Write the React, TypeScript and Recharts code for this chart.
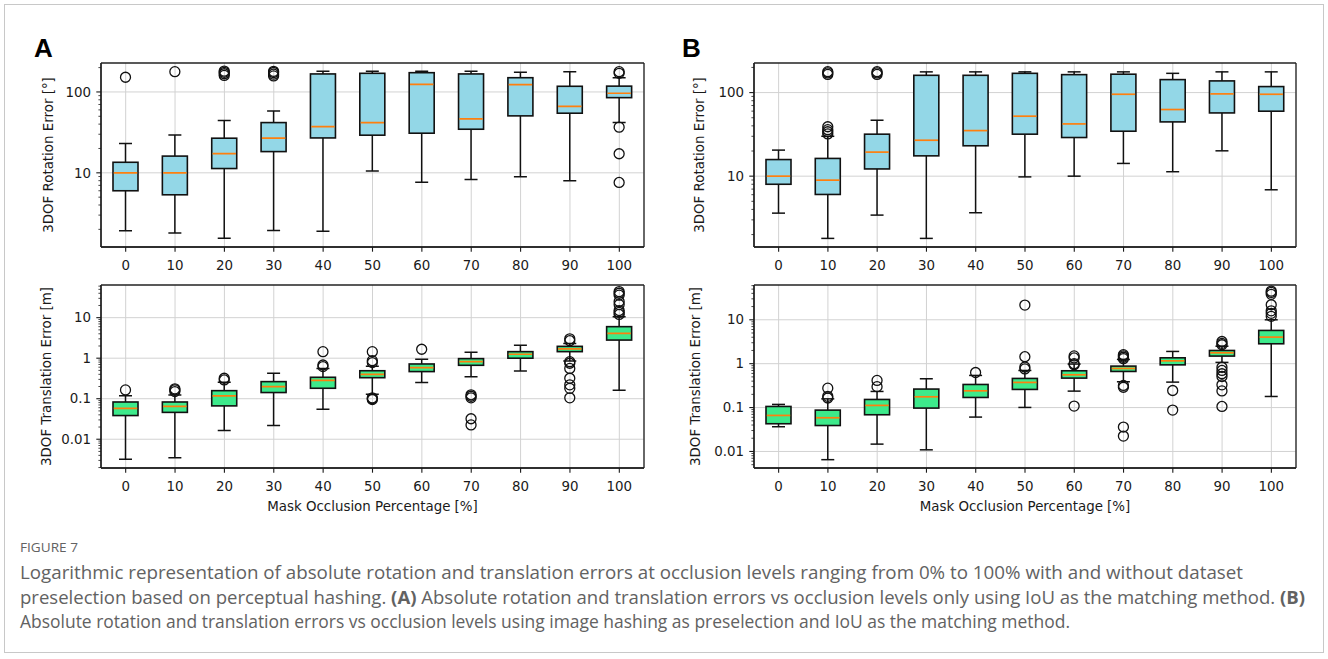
import React from 'react'
import { ComposedChart, Bar, XAxis, YAxis, CartesianGrid } from 'recharts'

const categories = ['0', '10', '20', '30', '40', '50', '60', '70', '80', '90', '100']

// (A) rotation error [°]
const rotALow = [1.92, 1.8, 1.55, 1.94, 1.89, 10.5, 7.67, 8.28, 8.93, 7.96, 41.8]
const rotAQ1 = [6.0, 5.35, 11.3, 18.3, 27.0, 29.2, 30.9, 34.6, 50.6, 54.6, 85]
const rotAMed = [10.0, 10.0, 17.3, 26.8, 37.3, 41.8, 124, 46.4, 123, 66.5, 96.4]
const rotAQ3 = [13.5, 16.1, 26.8, 41.8, 167, 170, 173, 167, 150, 117.5, 118]
const rotAHigh = [23.0, 29.4, 44.3, 58.2, 180, 180, 180, 180, 175, 178, 150]
const rotAOut = [[152], [178], [160, 168, 175, 181], [158, 166, 174, 180], [], [], [], [], [], [], [7.6, 17.2, 36.7, 170, 178]]

// (A) translation error [m]
const trALow = [0.0032, 0.0035, 0.0164, 0.0218, 0.055, 0.129, 0.25, 0.35, 0.485, 0.85, 0.161]
const trAQ1 = [0.0384, 0.046, 0.0665, 0.142, 0.181, 0.33, 0.467, 0.668, 1.0, 1.45, 2.8]
const trAMed = [0.058, 0.065, 0.117, 0.199, 0.285, 0.4, 0.585, 0.82, 1.25, 1.69, 4.1]
const trAQ3 = [0.083, 0.083, 0.158, 0.264, 0.338, 0.49, 0.72, 0.975, 1.45, 1.96, 6.0]
const trAHigh = [0.119, 0.124, 0.255, 0.425, 0.553, 0.63, 0.94, 1.4, 2.08, 2.3, 10.5]
const trAOut = [
  [0.165],
  [0.15, 0.165, 0.175],
  [0.29, 0.32],
  [],
  [0.62, 0.68, 1.45],
  [0.095, 0.1, 0.105, 0.78, 0.87, 1.45],
  [1.66],
  [0.0226, 0.032, 0.105, 0.115, 0.125],
  [],
  [0.105, 0.18, 0.22, 0.32, 0.56, 0.75, 0.82, 2.7, 3.0],
  [12, 13.5, 15, 21, 25, 36, 40, 44],
]

// (B) rotation error [°]
const rotBLow = [3.61, 1.8, 3.42, 1.8, 3.65, 9.8, 10.0, 14.2, 11.3, 20.1, 6.87]
const rotBQ1 = [8.0, 6.04, 12.2, 17.5, 23.1, 31.8, 29.0, 34.5, 44.6, 57.1, 59.9]
const rotBMed = [10.0, 8.96, 19.4, 26.9, 35.1, 52.2, 42.2, 95.5, 62.7, 96.5, 95.5]
const rotBQ3 = [15.8, 16.3, 31.8, 161, 161, 170, 164, 166, 143, 138, 118]
const rotBHigh = [20.5, 30.0, 46.7, 177, 177, 177, 177, 177, 170, 177, 177]
const rotBOut = [[], [32, 34, 36, 39, 165, 172, 178], [165, 172, 178], [], [], [], [], [], [], [], []]

// (B) translation error [m]
const trBLow = [0.0366, 0.0065, 0.0147, 0.0109, 0.0607, 0.1007, 0.237, 0.387, 0.38, 1.07, 0.179]
const trBQ1 = [0.0428, 0.039, 0.0686, 0.0973, 0.17, 0.259, 0.469, 0.665, 0.94, 1.49, 2.84]
const trBMed = [0.0662, 0.0586, 0.112, 0.176, 0.241, 0.374, 0.558, 0.778, 1.16, 1.77, 4.03]
const trBQ3 = [0.106, 0.0875, 0.153, 0.264, 0.336, 0.461, 0.689, 0.88, 1.36, 2.0, 5.72]
const trBHigh = [0.118, 0.158, 0.233, 0.453, 0.54, 0.7, 0.98, 1.25, 1.9, 2.5, 10]
const trBOut = [
  [],
  [0.165, 0.18, 0.277],
  [0.3, 0.415],
  [],
  [0.63],
  [0.76, 0.84, 1.44, 21.6],
  [0.108, 0.95, 1.0, 1.35, 1.5],
  [0.0224, 0.036, 0.29, 0.32, 1.3, 1.4, 1.5, 1.6],
  [0.0875, 0.245],
  [0.106, 0.24, 0.33, 0.51, 0.59, 0.7, 0.83, 2.7, 2.9, 3.2],
  [12, 14, 16, 22, 38, 42, 45],
]

const rotTicks = [10, 100]
const trTicks = [0.01, 0.1, 1, 10]

const TICK_FONT = '"DejaVu Sans", Verdana, sans-serif'
const INK = '#1a1a1a'

function buildRows(lo: number[], q1: number[], med: number[], q3: number[], hi: number[], out: number[][]) {
  return categories.map((cat, i) => ({
    cat,
    lo: lo[i],
    q1: q1[i],
    med: med[i],
    q3: q3[i],
    hi: hi[i],
    out: out[i],
    range: [lo[i], hi[i]],
  }))
}

// log minor ticks (1..9 x 10^n) inside the domain
function logTicks(min: number, max: number) {
  const t: number[] = []
  for (let e = -4; e <= 3; e++) {
    for (let m = 1; m <= 9; m++) {
      const v = m * Math.pow(10, e)
      if (v >= min && v <= max) t.push(v)
    }
  }
  return t
}

function BoxShape(props: any) {
  const { x, y, width, height, payload, boxFill } = props
  const { lo, q1, med, q3, hi, out } = payload
  const span = Math.log(hi) - Math.log(lo)
  const py = (v: number) => y + (height * (Math.log(hi) - Math.log(v))) / span
  const cx = x + width / 2
  const cap = width * 0.26
  const s = '#111'
  return (
    <g>
      <line x1={cx} x2={cx} y1={py(hi)} y2={py(q3)} stroke={s} strokeWidth={1.5} />
      <line x1={cx} x2={cx} y1={py(q1)} y2={py(lo)} stroke={s} strokeWidth={1.5} />
      <line x1={cx - cap} x2={cx + cap} y1={py(hi)} y2={py(hi)} stroke={s} strokeWidth={1.5} />
      <line x1={cx - cap} x2={cx + cap} y1={py(lo)} y2={py(lo)} stroke={s} strokeWidth={1.5} />
      <rect x={x} y={py(q3)} width={width} height={py(q1) - py(q3)} fill={boxFill} stroke={s} strokeWidth={1.6} />
      <line x1={x + 0.8} x2={x + width - 0.8} y1={py(med)} y2={py(med)} stroke="#ff7f0e" strokeWidth={1.7} />
      {out.map((v: number, i: number) => (
        <circle key={i} cx={cx} cy={py(v)} r={5} fill="none" stroke={s} strokeWidth={1.3} />
      ))}
    </g>
  )
}

function XTick(props: any) {
  const { x, y, payload } = props
  return (
    <g>
      <line x1={x} x2={x} y1={y} y2={y + 4.7} stroke={INK} strokeWidth={1.1} />
      <text x={x} y={y + 23} textAnchor="middle" fontSize={13.4} fontFamily={TICK_FONT} fill={INK}>
        {payload.value}
      </text>
    </g>
  )
}

function YTick(props: any) {
  const { x, y, payload, majors } = props
  const v = payload.value
  const major = majors.some((t: number) => Math.abs(t - v) / t < 1e-6)
  return (
    <g>
      <line x1={x} x2={x - (major ? 4.7 : 2.6)} y1={y} y2={y} stroke={INK} strokeWidth={major ? 1.1 : 0.8} />
      {major && (
        <text x={x - 10} y={y + 4.7} textAnchor="end" fontSize={13.4} fontFamily={TICK_FONT} fill={INK}>
          {String(v)}
        </text>
      )}
    </g>
  )
}

interface PanelProps {
  rows: any[]
  domain: [number, number]
  majors: number[]
  fill: string
  left: number
  top: number
  width: number
  height: number
  margin: { top: number; right: number; bottom: number; left: number }
}

function Panel({ rows, domain, majors, fill, left, top, width, height, margin }: PanelProps) {
  const ticks = logTicks(domain[0], domain[1])
  return (
    <div style={{ position: 'absolute', left, top }}>
      <ComposedChart width={width} height={height} data={rows} margin={margin}>
        <CartesianGrid stroke="#d2d2d2" strokeWidth={1} horizontalValues={majors} />
        {/* plot frame (all four spines) */}
        <CartesianGrid
          stroke="#222"
          strokeWidth={1.3}
          horizontalCoordinatesGenerator={({ offset }: any) => [offset.top, offset.top + offset.height]}
          verticalCoordinatesGenerator={({ offset }: any) => [offset.left, offset.left + offset.width]}
        />
        <XAxis
          dataKey="cat"
          type="category"
          height={30}
          interval={0}
          tickSize={0}
          tickMargin={0}
          axisLine={{ stroke: '#222', strokeWidth: 1.3 }}
          tickLine={false}
          tick={(p: any) => <XTick {...p} />}
        />
        <YAxis
          type="number"
          scale="log"
          domain={domain}
          allowDataOverflow
          ticks={ticks}
          interval={0}
          width={60}
          tickSize={0}
          tickMargin={0}
          axisLine={{ stroke: '#222', strokeWidth: 1.3 }}
          tickLine={false}
          tick={(p: any) => <YTick {...p} majors={majors} />}
        />
        <Bar
          dataKey="range"
          barSize={25}
          isAnimationActive={false}
          shape={(p: any) => <BoxShape {...p} boxFill={fill} />}
        />
      </ComposedChart>
    </div>
  )
}

const rotAData = buildRows(rotALow, rotAQ1, rotAMed, rotAQ3, rotAHigh, rotAOut)
const trAData = buildRows(trALow, trAQ1, trAMed, trAQ3, trAHigh, trAOut)
const rotBData = buildRows(rotBLow, rotBQ1, rotBMed, rotBQ3, rotBHigh, rotBOut)
const trBData = buildRows(trBLow, trBQ1, trBMed, trBQ3, trBHigh, trBOut)

const BLUE = '#93d7e7'
const GREEN = '#3dea8b'

export default function App() {
  const capFont = '"Open Sans", "Noto Sans", sans-serif'
  const capColor = '#626262'
  return (
    <div style={{ position: 'fixed', left: 0, top: 0, width: 1328, height: 659, background: '#fff', overflow: 'hidden' }}>
      <Panel rows={rotAData} domain={[1.21, 228]} majors={rotTicks} fill={BLUE} left={0} top={0} width={660} height={290}
        margin={{ top: 63, right: 16, bottom: 13, left: 41 }} />
      <Panel rows={trAData} domain={[0.00195, 64]} majors={trTicks} fill={GREEN} left={0} top={270} width={660} height={260}
        margin={{ top: 15, right: 16, bottom: 32, left: 41 }} />
      <Panel rows={rotBData} domain={[1.42, 226]} majors={rotTicks} fill={BLUE} left={660} top={0} width={668} height={290}
        margin={{ top: 63, right: 32, bottom: 13, left: 34 }} />
      <Panel rows={trBData} domain={[0.0042, 62]} majors={trTicks} fill={GREEN} left={660} top={270} width={668} height={260}
        margin={{ top: 15, right: 32, bottom: 32, left: 34 }} />

      <svg width={1328} height={659} style={{ position: 'absolute', left: 0, top: 0, pointerEvents: 'none' }}>
        <rect x={4.5} y={4.5} width={1319} height={648} fill="none" stroke="#c8c8c8" strokeWidth={1} />

        <text x={34} y={57} fontSize={26} fontWeight="bold" fontFamily="'Liberation Sans', Arial, sans-serif" fill="#000">A</text>
        <text x={682} y={57} fontSize={26} fontWeight="bold" fontFamily="'Liberation Sans', Arial, sans-serif" fill="#000">B</text>

        <g fontSize={13.4} fontFamily={TICK_FONT} fill={INK} textAnchor="middle">
          <text transform="translate(48,155) rotate(-90)" dominantBaseline="central">3DOF Rotation Error [°]</text>
          <text transform="translate(46,376.5) rotate(-90)" dominantBaseline="central">3DOF Translation Error [m]</text>
          <text transform="translate(699,155) rotate(-90)" dominantBaseline="central">3DOF Rotation Error [°]</text>
          <text transform="translate(695,376.5) rotate(-90)" dominantBaseline="central">3DOF Translation Error [m]</text>
          <text x={372.5} y={511}>Mask Occlusion Percentage [%]</text>
          <text x={1025} y={511}>Mask Occlusion Percentage [%]</text>
        </g>

        <g fontFamily={capFont} fill={capColor}>
          <text x={20} y={552} fontSize={12.5} textLength={58} lengthAdjust="spacingAndGlyphs">FIGURE 7</text>
          <text x={20} y={579} fontSize={18} textLength={1223} lengthAdjust="spacingAndGlyphs">
            Logarithmic representation of absolute rotation and translation errors at occlusion levels ranging from 0% to 100% with and without dataset
          </text>
          <text x={20} y={604} fontSize={18} textLength={1285} lengthAdjust="spacingAndGlyphs">
            preselection based on perceptual hashing. <tspan fontWeight="bold">(A)</tspan> Absolute rotation and translation errors vs occlusion levels only using IoU as the matching method. <tspan fontWeight="bold">(B)</tspan>
          </text>
          <text x={20} y={628} fontSize={18} textLength={1050} lengthAdjust="spacingAndGlyphs">
            Absolute rotation and translation errors vs occlusion levels using image hashing as preselection and IoU as the matching method.
          </text>
        </g>
      </svg>
    </div>
  )
}
